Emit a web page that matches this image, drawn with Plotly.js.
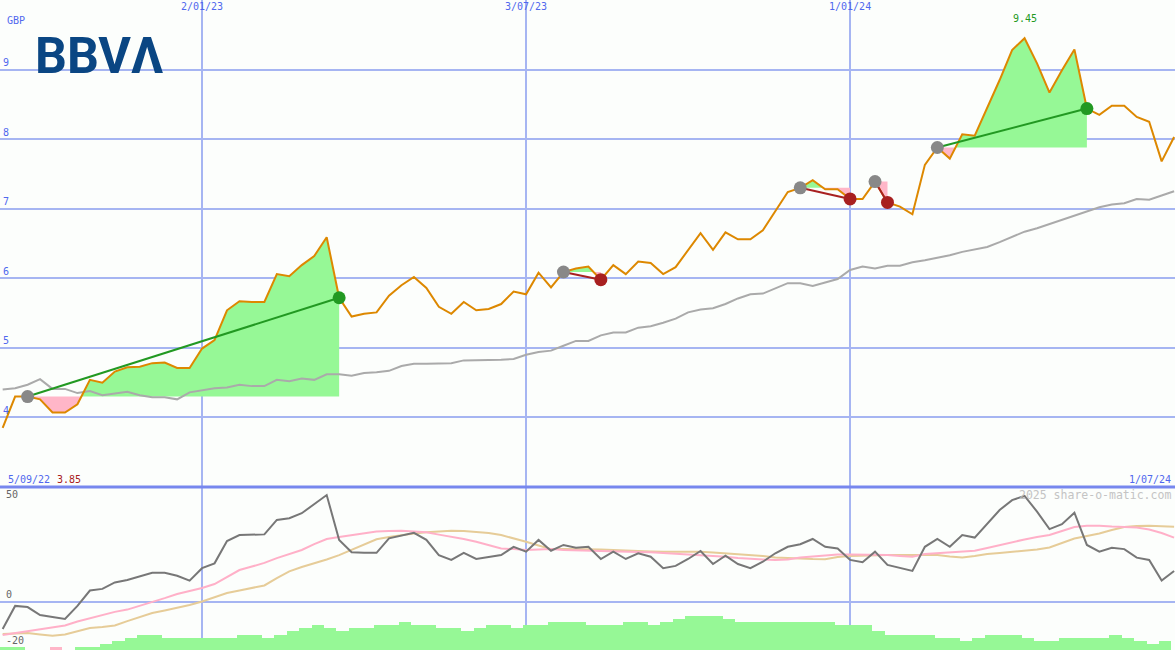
<!DOCTYPE html>
<html><head><meta charset="utf-8">
<script src="https://cdn.plot.ly/plotly-3.0.1.min.js"></script>
<style>html,body{margin:0;padding:0;background:#fcfefc;}#chart{width:1175px;height:650px;}</style>
</head><body><div id="chart"></div>
<script>
// ---- data (weekly, Mondays) ----
const firstWeek = '2022-09-12';
const price = [3.85,4.30,4.30,4.26,4.07,4.07,4.19,4.54,4.50,4.66,
 4.72,4.73,4.78,4.79,4.71,4.71,4.99,5.11,5.54,5.67,
 5.66,5.66,6.06,6.03,6.19,6.32,6.59,5.72,5.45,5.49,
 5.51,5.75,5.90,6.02,5.86,5.59,5.49,5.66,5.54,5.56,
 5.63,5.81,5.77,6.08,5.87,6.09,6.14,6.17,5.98,6.19,
 6.06,6.24,6.22,6.06,6.16,6.41,6.65,6.41,6.66,6.56,
 6.56,6.69,6.96,7.24,7.30,7.41,7.28,7.28,7.14,7.14,
 7.39,7.09,7.03,6.92,7.63,7.88,7.72,8.07,8.05,8.44,
 8.85,9.28,9.45,9.09,8.67,8.99,9.29,8.44,8.35,8.48,
 8.48,8.32,8.25,7.68,8.03];
const benchmark = [4.40,4.42,4.47,4.55,4.41,4.41,4.35,4.38,4.32,4.34,
 4.37,4.32,4.29,4.29,4.26,4.36,4.39,4.42,4.43,4.47,
 4.45,4.45,4.54,4.52,4.56,4.54,4.62,4.62,4.60,4.64,
 4.65,4.67,4.74,4.77,4.77,4.77,4.78,4.82,4.82,4.82,
 4.83,4.84,4.90,4.94,4.96,5.03,5.10,5.10,5.18,5.22,
 5.22,5.29,5.31,5.36,5.42,5.51,5.55,5.57,5.63,5.71,
 5.77,5.78,5.86,5.93,5.93,5.89,5.94,5.99,6.12,6.17,
 6.14,6.18,6.18,6.23,6.26,6.29,6.33,6.38,6.41,6.45,
 6.52,6.59,6.67,6.72,6.78,6.85,6.90,6.96,7.02,7.06,
 7.08,7.14,7.13,7.19,7.25];
const momentum = [-11.7,-1.7,-2.2,-5.7,-6.5,-7.4,-1.7,5.0,5.7,8.5,
 9.6,11.3,12.7,12.7,11.4,9.3,14.7,16.8,26.5,29.1,
 29.4,29.4,35.7,36.4,38.6,42.6,46.5,27.0,21.6,21.4,
 21.4,27.7,28.8,30.1,27.0,20.4,18.3,21.4,18.7,19.7,
 20.4,24.0,21.9,27.0,22.3,24.8,23.6,24.0,18.7,21.9,
 18.7,21.2,19.7,14.7,15.7,18.7,22.2,16.5,20.1,16.5,
 14.7,17.5,21.2,24.0,25.1,27.4,24.0,23.3,18.3,17.3,
 21.9,16.1,14.7,13.5,24.0,27.4,24.0,29.1,28.0,34.2,
 40.0,44.3,46.1,39.3,31.7,33.8,38.8,24.8,21.9,23.6,
 23.0,19.3,18.3,9.3,13.5];
const avgFast = [-14.3,-13.5,-12.8,-12.0,-11.1,-10.2,-8.5,-7.0,-5.7,-4.3,
 -3.3,-1.7,-0.2,1.7,3.5,4.8,6.1,7.8,10.9,13.9,
 15.4,17.0,19.1,20.9,22.6,25.2,27.4,28.3,29.1,29.8,
 30.6,30.9,31.0,30.7,30.3,29.3,28.4,27.4,26.2,24.8,
 23.3,23.0,22.6,22.8,23.0,22.6,22.4,22.2,22.1,22.0,
 21.9,21.7,21.6,21.3,21.1,20.9,20.4,20.2,19.7,19.1,
 18.7,18.5,18.3,18.5,19.3,19.8,20.0,20.7,20.7,20.7,
 20.7,20.4,20.0,19.7,20.9,21.3,21.6,22.0,22.3,23.5,
 24.8,26.1,27.2,28.3,29.1,30.9,32.6,33.2,33.2,32.8,
 32.7,32.4,31.5,30.0,28.0];
const avgSlow = [-13.9,-13.7,-13.5,-14.1,-14.7,-14.1,-12.6,-11.3,-10.9,-10.2,
 -8.3,-6.5,-4.8,-3.7,-2.6,-1.3,0.2,2.0,3.9,5.0,
 6.1,7.2,10.4,13.3,15.2,16.7,18.5,20.4,22.8,25.0,
 27.3,28.3,29.1,29.8,30.3,30.7,31.0,30.9,30.6,30.0,
 29.1,27.8,26.2,24.6,23.0,23.0,23.0,23.0,22.8,22.6,
 22.3,22.2,22.0,21.9,21.9,21.9,21.9,21.5,21.2,20.9,
 20.4,20.0,19.4,19.1,18.9,18.7,18.6,19.6,20.0,20.2,
 20.4,20.4,20.4,20.4,20.4,20.4,19.8,19.4,20.0,20.9,
 21.3,21.7,22.2,22.8,23.7,25.7,27.6,28.7,29.8,31.3,
 32.6,33.0,33.2,32.9,32.7];
const histogram = [1,1,0,0,-1,0,1,1,2,3,
 4,5,5,4,4,4,4,4,4,5,
 5,4,5,6,7,8,7,6,7,7,
 8,8,9,8,8,7,7,6,7,8,
 8,7,8,8,9,9,9,8,8,8,
 9,9,8,9,10,11,11,11,10,9,
 9,9,9,9,9,9,9,8,8,8,
 6,5,5,5,5,4,4,3,4,5,
 5,5,4,3,3,4,4,4,4,5,
 4,3,2,3];
const tradeEntries = [2,45,64,70,75];
const tradeExits   = [27,48,68,71,87];
const dateTicks = ['2023-01-02','2023-07-03','2024-01-01'];
const dateTickText = ['2/01/23','3/07/23','1/01/24'];
const priceTicks = [4,5,6,7,8,9];
const oscLabels = [50,0,-20];
const rangeLabels = ['5/09/22','1/07/24'];
const currency = 'GBP';
const brand = 'BBVΛ';
const watermark = '2025 share-o-matic.com';

// ---- styling constants ----
const DAY = 86400000;
const OSC_MIN = -20.87, OSC_MAX = 50;
const HIST_UNIT = 1.348;
const SPLIT = 163/650;
const MONO = 'DejaVu Sans Mono, Liberation Mono, monospace';
const BLUE = '#5068ee', GRID = '#a6b5f2';
const GREEN = '#229922', RED = '#a82020';
const FILL_G = '#96f896', FILL_P = '#ffb6c8';

const t0 = Date.parse(firstWeek);
const times = price.map((_, i) => t0 + i * 7 * DAY);

const traces = [];

// trade fills
tradeEntries.forEach((a, n) => {
  const b = tradeExits[n];
  const e = price[a];
  const pts = [];
  for (let k = a; k <= b; k++) {
    if (k > a) {
      const d0 = price[k-1] - e, d1 = price[k] - e;
      if (d0 * d1 < 0) {
        const f = d0 / (d0 - d1);
        pts.push([times[k-1] + f * (times[k] - times[k-1]), e]);
      }
    }
    pts.push([times[k], price[k]]);
  }
  const close = [[times[b], e], [times[a], e]];
  const up = pts.map(q => [q[0], Math.max(q[1], e)]).concat(close);
  const dn = pts.map(q => [q[0], Math.min(q[1], e)]).concat(close);
  [[up, FILL_G], [dn, FILL_P]].forEach(([poly, col]) => {
    traces.push({x: poly.map(q => q[0]), y: poly.map(q => q[1]), type: 'scatter', mode: 'lines',
      fill: 'toself', fillcolor: col, line: {width: 0}, hoverinfo: 'skip', showlegend: false,
      xaxis: 'x', yaxis: 'y'});
  });
});

// benchmark and price
traces.push({x: times, y: benchmark, type: 'scatter', mode: 'lines',
  line: {color: '#aaaaaa', width: 2}, xaxis: 'x', yaxis: 'y', showlegend: false});
traces.push({x: times, y: price, type: 'scatter', mode: 'lines',
  line: {color: '#dd8800', width: 2}, xaxis: 'x', yaxis: 'y', showlegend: false});

// trade lines and markers
tradeEntries.forEach((a, n) => {
  const b = tradeExits[n];
  const col = price[b] > price[a] ? GREEN : RED;
  traces.push({x: [times[a], times[b]], y: [price[a], price[b]], type: 'scatter', mode: 'lines',
    line: {color: col, width: 2}, xaxis: 'x', yaxis: 'y', showlegend: false});
});
traces.push({x: tradeEntries.map(i => times[i]), y: tradeEntries.map(i => price[i]),
  type: 'scatter', mode: 'markers', marker: {color: '#888888', size: 13},
  xaxis: 'x', yaxis: 'y', showlegend: false});
traces.push({x: tradeExits.map(i => times[i]), y: tradeExits.map(i => price[i]),
  type: 'scatter', mode: 'markers',
  marker: {color: tradeExits.map((b, n) => price[b] > price[tradeEntries[n]] ? GREEN : RED), size: 13},
  xaxis: 'x', yaxis: 'y', showlegend: false});

// lower panel
traces.push({x: times.slice(0, histogram.length), y: histogram.map(v => Math.abs(v) * HIST_UNIT),
  base: OSC_MIN, type: 'bar', width: 7 * DAY, offset: -1.5 * DAY,
  marker: {color: histogram.map(v => v < 0 ? FILL_P : FILL_G), line: {width: 0}},
  xaxis: 'x', yaxis: 'y2', showlegend: false});
traces.push({x: times, y: avgSlow, type: 'scatter', mode: 'lines',
  line: {color: '#e6cc98', width: 2}, xaxis: 'x', yaxis: 'y2', showlegend: false});
traces.push({x: times, y: avgFast, type: 'scatter', mode: 'lines',
  line: {color: '#ffb0c8', width: 2}, xaxis: 'x', yaxis: 'y2', showlegend: false});
traces.push({x: times, y: momentum, type: 'scatter', mode: 'lines',
  line: {color: '#777777', width: 2}, xaxis: 'x', yaxis: 'y2', showlegend: false});

let maxIdx = 0;
price.forEach((p, i) => { if (p > price[maxIdx]) maxIdx = i; });
const minVal = Math.min(...price);

const annotations = [
  {xref: 'paper', yref: 'paper', x: 5/1175, y: 1 - 20/650, xanchor: 'left', yanchor: 'middle',
   text: currency, showarrow: false, font: {family: MONO, size: 10, color: BLUE}},
  {xref: 'paper', yref: 'paper', x: 33/1175, y: 1 - 56/650, xanchor: 'left', yanchor: 'middle',
   text: brand, showarrow: false, font: {family: 'Roboto, Liberation Sans, sans-serif', size: 50, color: '#0a4683', weight: 700}},
  {xref: 'x', yref: 'y', x: times[maxIdx], y: price[maxIdx], xanchor: 'center', yanchor: 'bottom', yshift: 12,
   text: price[maxIdx].toFixed(2), showarrow: false, font: {family: MONO, size: 10, color: GREEN}},
  {xref: 'paper', yref: 'paper', x: 6/1175, y: (650 - 479)/650, xanchor: 'left', yanchor: 'middle',
   text: rangeLabels[0], showarrow: false, font: {family: MONO, size: 10, color: BLUE}},
  {xref: 'paper', yref: 'paper', x: 55/1175, y: (650 - 479)/650, xanchor: 'left', yanchor: 'middle',
   text: minVal.toFixed(2), showarrow: false, font: {family: MONO, size: 10, color: RED}},
  {xref: 'paper', yref: 'paper', x: 1173/1175, y: (650 - 479)/650, xanchor: 'right', yanchor: 'middle',
   text: rangeLabels[1], showarrow: false, font: {family: MONO, size: 10, color: BLUE}},
  {xref: 'paper', yref: 'paper', x: 1173/1175, y: (650 - 495)/650, xanchor: 'right', yanchor: 'middle',
   text: watermark, showarrow: false, font: {family: MONO, size: 11.5, color: '#c4c4c4'}}
];
oscLabels.forEach(v => {
  annotations.push({xref: 'paper', yref: 'y2', x: 4/1175, y: v, xanchor: 'left',
    yanchor: v === OSC_MAX ? 'top' : 'bottom', text: String(v), showarrow: false,
    font: {family: MONO, size: 10, color: '#666666'}});
});

const layout = {
  width: 1175, height: 650,
  margin: {l: 0, r: 0, t: 0, b: 0, pad: 0},
  paper_bgcolor: '#fcfefc', plot_bgcolor: '#fcfefc',
  showlegend: false, bargap: 0,
  xaxis: {type: 'date', range: ['2022-09-10 12:00', '2024-07-01 12:00'], anchor: 'y', side: 'top',
    tickmode: 'array', tickvals: dateTicks, ticktext: dateTickText, ticklabelposition: 'inside',
    ticks: '', showgrid: true, gridcolor: GRID, gridwidth: 1.5, zeroline: false, showline: false,
    tickfont: {family: MONO, size: 10, color: BLUE}},
  yaxis: {domain: [SPLIT, 1], range: [3, 10], anchor: 'x', tickmode: 'array', tickvals: priceTicks,
    ticklabelposition: 'inside top', ticks: '', showgrid: true, gridcolor: GRID, gridwidth: 2,
    zeroline: false, showline: false, tickfont: {family: MONO, size: 10, color: BLUE}},
  yaxis2: {domain: [0, SPLIT], range: [OSC_MIN, OSC_MAX], anchor: 'x', tickmode: 'array', tickvals: [0],
    showticklabels: false, ticks: '', showgrid: true, gridcolor: GRID, gridwidth: 2,
    zeroline: false, showline: false},
  shapes: [{type: 'line', xref: 'paper', yref: 'paper', x0: 0, x1: 1, y0: SPLIT, y1: SPLIT,
    line: {color: '#7787ee', width: 3}}],
  annotations: annotations
};

Plotly.newPlot('chart', traces, layout, {displayModeBar: false, staticPlot: true});
</script></body></html>
